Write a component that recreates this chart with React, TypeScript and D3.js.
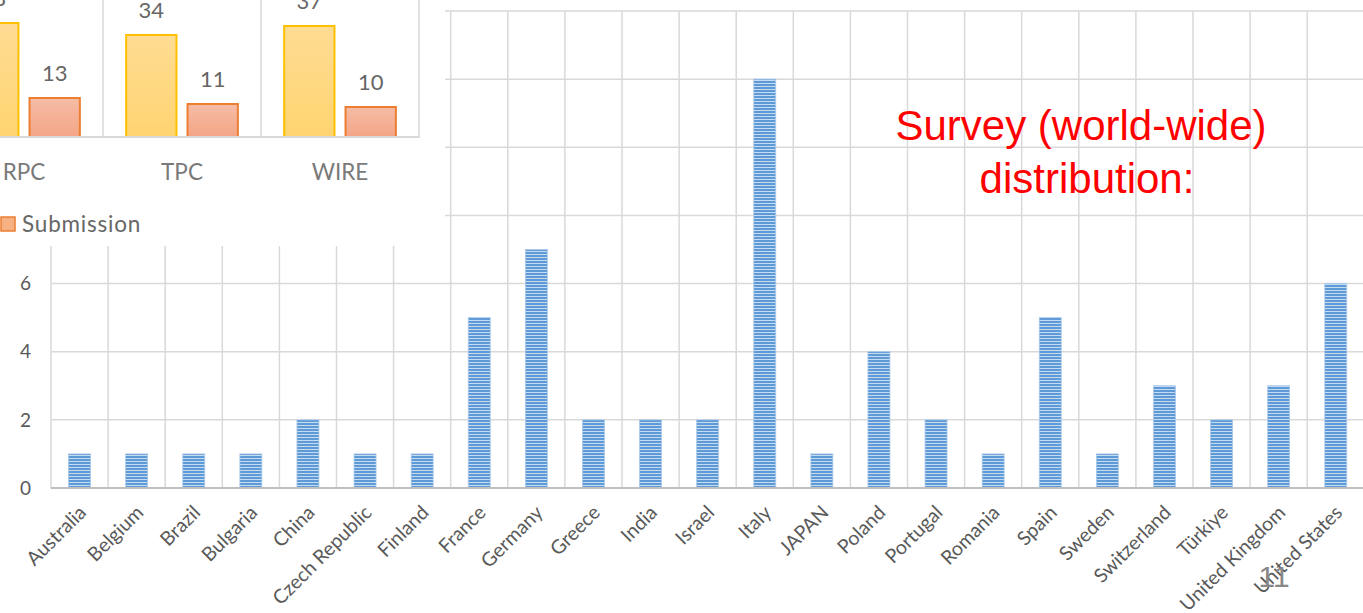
import React from "react";
import * as d3 from "d3";

const countries = [
  "Australia", "Belgium", "Brazil", "Bulgaria", "China", "Czech Republic", "Finland",
  "France", "Germany", "Greece", "India", "Israel", "Italy", "JAPAN", "Poland",
  "Portugal", "Romania", "Spain", "Sweden", "Switzerland", "Türkiye",
  "United Kingdom", "United States",
];
const countryCounts = [1, 1, 1, 1, 2, 1, 1, 5, 7, 2, 2, 2, 12, 1, 4, 2, 1, 5, 1, 3, 2, 3, 6];
const yTicks = [0, 2, 4, 6, 8, 10, 12, 14];

const insetCategories = ["RPC", "TPC", "WIRE"];
const insetSeriesA = [38, 34, 37];
const insetSubmission = [13, 11, 10];
const insetLegend = "Submission";

const titleLines = ["Survey (world-wide)", "distribution:"];
const pageNumber = "11";

const W = 1363;
const H = 613;

export default function App() {
  // main chart
  const x = d3
    .scaleBand<string>()
    .domain(countries)
    .range([51, 51 + 23 * 57.1])
    .paddingInner(0.615)
    .paddingOuter(0.3075);
  const y = d3.scaleLinear().domain([0, 14]).range([488, 11]);
  const step = x.step();
  const left = 51;
  const right = W;
  const boundaries = d3.range(countries.length + 1).map((i) => left + i * step);

  // inset chart (sits over the top-left part of the main chart)
  const insetW = 445;
  const insetH = 246;
  const ix = d3.scaleBand<string>().domain(insetCategories).range([-55, 419]);
  const isub = d3
    .scaleBand<number>()
    .domain([0, 1])
    .range([0, ix.step()])
    .paddingInner(0.18)
    .paddingOuter(0.377);
  const iy = d3.scaleLinear().domain([0, 45]).range([137, 2]);

  const font = "Lato, 'Open Sans', sans-serif";
  const visibleTicks = yTicks.filter((t) => y(t) > insetH + 8);

  return (
    <svg
      width={W}
      height={H}
      style={{ position: "absolute", left: 0, top: 0, background: "#fff" }}
    >
      <defs>
        <pattern id="stripes" width="8" height="3" patternUnits="userSpaceOnUse">
          <rect width="8" height="3" fill="#5E9AD6" />
          <rect y="2" width="8" height="1" fill="#C4DBF2" />
        </pattern>
        <linearGradient id="gYellow" x1="0" y1="0" x2="0" y2="1">
          <stop offset="0" stopColor="#FFDC94" />
          <stop offset="1" stopColor="#FFD470" />
        </linearGradient>
        <linearGradient id="gSalmon" x1="0" y1="0" x2="0" y2="1">
          <stop offset="0" stopColor="#F5BCA6" />
          <stop offset="1" stopColor="#F4A585" />
        </linearGradient>
      </defs>

      {/* main chart gridlines */}
      <g stroke="#d9d9d9" strokeWidth={1.5}>
        {yTicks.slice(1).map((t) => (
          <line key={"h" + t} x1={left} x2={right} y1={y(t)} y2={y(t)} />
        ))}
        {boundaries.map((bx, i) => (
          <line key={"v" + i} x1={bx} x2={bx} y1={y(14)} y2={y(0)} />
        ))}
      </g>

      {/* bars */}
      <g>
        {countries.map((c, i) => (
          <rect
            key={c}
            x={x(c)}
            y={y(countryCounts[i])}
            width={x.bandwidth()}
            height={y(0) - y(countryCounts[i])}
            fill="url(#stripes)"
            stroke="#A9C8EA"
            strokeWidth={0.8}
          />
        ))}
      </g>

      {/* x axis line */}
      <line x1={left} x2={right} y1={y(0)} y2={y(0)} stroke="#bfbfbf" strokeWidth={2} />

      {/* y tick labels (upper ones are hidden behind the inset) */}
      <g fontFamily={font} fontSize={19} fill="#595959" textAnchor="end">
        {visibleTicks.map((t) => (
          <text key={t} x={31} y={y(t)} dy="0.35em">
            {t}
          </text>
        ))}
      </g>

      {/* x labels */}
      <g fontFamily={font} fontSize={19.5} fill="#595959" textAnchor="end">
        {countries.map((c) => {
          const cx = (x(c) as number) + x.bandwidth() / 2 + 3;
          return (
            <text key={c} transform={`translate(${cx},${509}) rotate(-45)`} dy="0.35em">
              {c}
            </text>
          );
        })}
      </g>

      {/* title */}
      <g fontFamily="'Liberation Sans', Arial, sans-serif" fontSize={42} fill="#FF0000" textAnchor="middle">
        <text x={1081} y={140}>{titleLines[0]}</text>
        <text x={1087} y={193}>{titleLines[1]}</text>
      </g>

      {/* inset panel */}
      <rect x={0} y={0} width={insetW} height={insetH} fill="#fff" />
      <g stroke="#d9d9d9" strokeWidth={1.5}>
        {insetCategories.map((c) => {
          const bx = (ix(c) as number) + ix.step();
          return <line key={c} x1={bx} x2={bx} y1={0} y2={iy(0)} />;
        })}
      </g>
      <g>
        {insetCategories.map((c, i) => {
          const base = ix(c) as number;
          return (
            <g key={c}>
              <rect
                x={base + (isub(0) as number)}
                y={iy(insetSeriesA[i])}
                width={isub.bandwidth()}
                height={iy(0) - iy(insetSeriesA[i])}
                fill="url(#gYellow)"
                stroke="#FFC000"
                strokeWidth={2}
              />
              <rect
                x={base + (isub(1) as number)}
                y={iy(insetSubmission[i])}
                width={isub.bandwidth()}
                height={iy(0) - iy(insetSubmission[i])}
                fill="url(#gSalmon)"
                stroke="#ED7D31"
                strokeWidth={2}
              />
            </g>
          );
        })}
      </g>
      <line x1={0} x2={420} y1={iy(0)} y2={iy(0)} stroke="#d9d9d9" strokeWidth={2} />
      <g fontFamily={font} fontSize={22} fill="#666" textAnchor="middle">
        {insetCategories.map((c, i) => {
          const base = ix(c) as number;
          return (
            <g key={c}>
              <text x={base + (isub(0) as number) + isub.bandwidth() / 2} y={iy(insetSeriesA[i]) - 17}>
                {insetSeriesA[i]}
              </text>
              <text x={base + (isub(1) as number) + isub.bandwidth() / 2} y={iy(insetSubmission[i]) - 17}>
                {insetSubmission[i]}
              </text>
            </g>
          );
        })}
      </g>
      <g fontFamily={font} fontSize={22.5} fill="#7a7a7a" textAnchor="middle">
        {insetCategories.map((c) => (
          <text key={c} x={(ix(c) as number) + ix.step() / 2} y={180}>
            {c}
          </text>
        ))}
      </g>
      <rect x={1} y={217} width={14} height={14} fill="#F4B183" stroke="#ED7D31" strokeWidth={1.5} />
      <text x={22} y={232} fontFamily={font} fontSize={22.5} fill="#666" letterSpacing={0.8}>
        {insetLegend}
      </text>

      {/* page number */}
      <text
        x={1274}
        y={587}
        fontFamily="'Liberation Sans', Arial, sans-serif"
        fontSize={30}
        fill="#888"
        textAnchor="middle"
      >
        {pageNumber}
      </text>
    </svg>
  );
}
